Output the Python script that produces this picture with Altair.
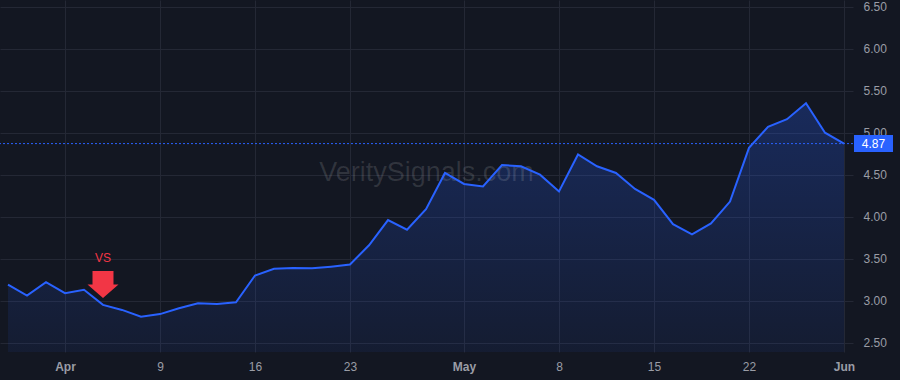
import altair as alt
import pandas as pd

# ---- data -------------------------------------------------------------
prices = [3.19, 3.06, 3.22, 3.09, 3.13, 2.95, 2.89, 2.81, 2.84, 2.91,
          2.97, 2.96, 2.98, 3.30, 3.38, 3.39, 3.385, 3.405, 3.43, 3.66,
          3.96, 3.845, 4.09, 4.52, 4.39, 4.36, 4.615, 4.60, 4.50, 4.30,
          4.74, 4.60, 4.52, 4.33, 4.20, 3.91, 3.79, 3.92, 4.18, 4.82,
          5.07, 5.16, 5.35, 5.00, 4.87]
tick_index = [3, 8, 13, 18, 24, 29, 34, 39, 44]
tick_labels = ["Apr", "9", "16", "23", "May", "8", "15", "22", "Jun"]
month_names = ["Apr", "May", "Jun"]
price_ticks = [2.5, 3.0, 3.5, 4.0, 4.5, 5.0, 5.5, 6.0, 6.5]
signal_index = [5]
signal_label = ["VS"]
watermark_text = "VeritySignals.com"
last_price = prices[-1]

# ---- layout / style ---------------------------------------------------
W, H = 853, 352
BG = "#131722"
GRID = "#242835"
TEXT = "#9a9da6"
BLUE = "#2962ff"
RED = "#f23645"
FONT = "Liberation Sans"

df = pd.DataFrame({"i": list(range(len(prices))), "price": prices})
sig = pd.DataFrame({"i": signal_index,
                    "price": [prices[k] for k in signal_index],
                    "label": signal_label})
last = pd.DataFrame({"price": [last_price], "txt": [f"{last_price:.2f}"]})
wm = pd.DataFrame({"t": [watermark_text]})

label_expr = "''"
for k, lab in reversed(list(zip(tick_index, tick_labels))):
    label_expr = f"datum.value == {k} ? '{lab}' : ({label_expr})"
bold_test = " || ".join(f"datum.value == {k}" for k, lab in zip(tick_index, tick_labels)
                        if lab in month_names)

x_dom = [-8 / 19, -8 / 19 + W / 19]
y_dom = [2.389, 2.389 + H / 84]

x_enc = alt.X("i:Q",
              scale=alt.Scale(domain=x_dom, nice=False, zero=False),
              axis=alt.Axis(values=tick_index, labelExpr=label_expr, title=None,
                            grid=True, gridColor=GRID, domain=False, ticks=False,
                            tickSize=0, labelPadding=9, labelFontSize=12,
                            labelColor=TEXT, labelFont=FONT,
                            labelFontWeight={"condition": {"test": bold_test, "value": "bold"},
                                             "value": "normal"},
                            labelFlush=False, labelOverlap=False))
y_scale = alt.Scale(domain=y_dom, nice=False, zero=False)
y_enc = alt.Y("price:Q", scale=y_scale,
              axis=alt.Axis(orient="right", values=price_ticks, format=".2f", title=None,
                            grid=True, gridColor=GRID, domain=False, ticks=False,
                            tickSize=0, labelPadding=10, labelFontSize=12,
                            labelColor=TEXT, labelFont=FONT, labelAlign="left",
                            labelFlush=False, labelOverlap=False))

watermark = alt.Chart(wm).mark_text(fontSize=27, font=FONT, color="rgba(255,255,255,0.13)",
                                    align="center", baseline="middle").encode(
    x=alt.value(W / 2), y=alt.value(H / 2 - 3), text="t:N")

area = alt.Chart(df).mark_area(
    clip=True,
    color=alt.Gradient(gradient="linear",
                       stops=[alt.GradientStop(color="rgba(41,98,255,0.26)", offset=0),
                              alt.GradientStop(color="rgba(41,98,255,0.07)", offset=1)],
                       x1=1, x2=1, y1=0, y2=1)
).encode(x=x_enc, y=y_enc, y2=alt.datum(y_dom[0]))

line = alt.Chart(df).mark_line(color=BLUE, strokeWidth=2).encode(x="i:Q", y="price:Q")

price_line = alt.Chart(last).mark_rule(color=BLUE, strokeWidth=1, strokeDash=[2, 2]).encode(
    y="price:Q")

arrow_path = "M-0.677,-0.871 L0.677,-0.871 L0.677,0 L1,0 L0,0.871 L-1,0 L-0.677,0 Z"
arrow = alt.Chart(sig).mark_point(shape=arrow_path, size=961, filled=True, color=RED,
                                  opacity=1, strokeWidth=0, yOffset=-20.5).encode(
    x="i:Q", y="price:Q")
arrow_text = alt.Chart(sig).mark_text(color=RED, fontSize=12, font=FONT,
                                      baseline="middle", yOffset=-47).encode(
    x="i:Q", y="price:Q", text="label:N")

tag_box = alt.Chart(last).mark_rule(color=BLUE, strokeWidth=17, strokeCap="butt").encode(
    x=alt.value(W + 1), x2=alt.value(W + 40), y="price:Q")
tag_text = alt.Chart(last).mark_text(color="white", fontSize=12, font=FONT,
                                     align="center", baseline="middle").encode(
    x=alt.value(W + 20.5), y="price:Q", text="txt:N")

chart = alt.layer(area, watermark, line, price_line, arrow, arrow_text, tag_box, tag_text).properties(
    width=W, height=H,
    padding={"left": 0, "top": 0, "right": 900 - W, "bottom": 380 - H},
    autosize=alt.AutoSizeParams(type="none"),
    background=BG,
).configure_view(stroke=None)

chart.save("out.html", embed_options={"renderer": "svg", "actions": False})
